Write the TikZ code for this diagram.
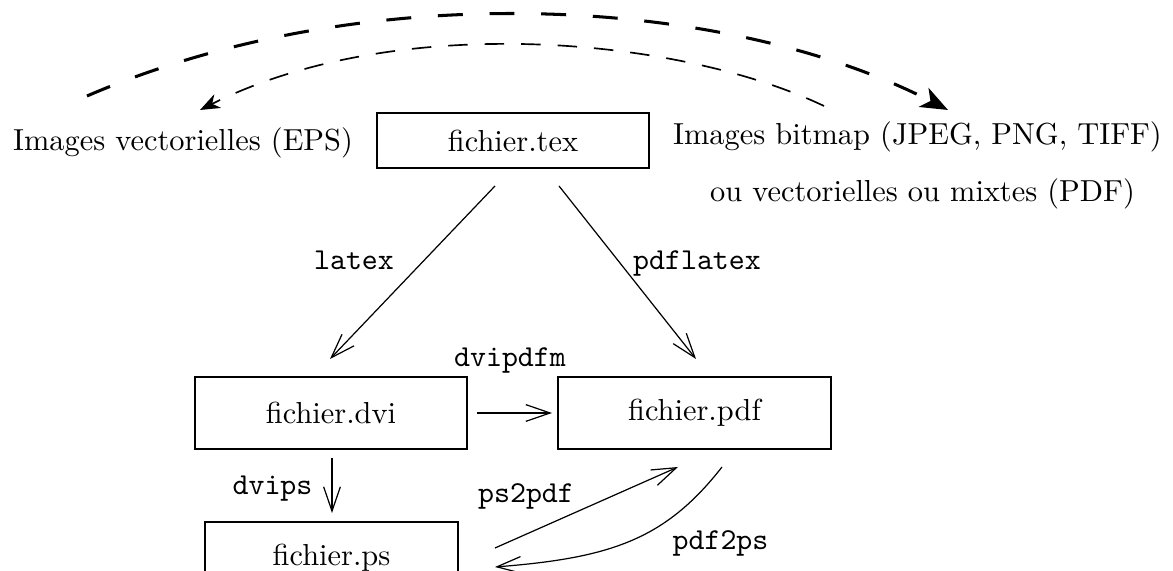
\documentclass[tikz,border=0pt]{standalone}
\usetikzlibrary{arrows.meta}
\begin{document}
\begin{tikzpicture}[x=0.329pt,y=-0.329pt,
  filebox/.style={draw, line width=0.5pt, inner sep=0pt, minimum width=89.5pt, minimum height=23.7pt},
  txt/.style={anchor=base, inner sep=0pt},
  cmd/.style={anchor=base, inner sep=0pt, font=\ttfamily},
  arr/.style={line width=0.4pt, -{Straight Barb[length=8pt,width=5.5pt]}},
  thickdash/.style={line width=1pt, dash pattern=on 8.2pt off 8.8pt, -{Stealth[length=9pt,width=7pt,inset=2.5pt]}},
  thindash/.style={line width=0.55pt, dash pattern=on 6.4pt off 5.6pt, -{Stealth[length=6.5pt,width=5pt,inset=2pt]}}]
\useasboundingbox (0,0) rectangle (1173,571);
\clip (0,0) rectangle (1173,571);

% boxes
\node[filebox, minimum height=18.1pt] (tex) at (513,140.5) {fichier.tex};
\node[filebox] (dvi) at (331,413) {fichier.dvi};
\node[filebox, minimum width=89.8pt] (pdf) at (694.5,413) {fichier.pdf};
\node[filebox, minimum width=83.2pt] (ps) at (331.5,558) {fichier.ps};

% side texts
\node[txt] (vec) at (183,151) {Images vectorielles (EPS)};
\node[txt] (bmp) at (917.5,145) {Images bitmap (JPEG, PNG, TIFF)};
\node[txt] (mix) at (922.5,202) {ou vectorielles ou mixtes (PDF)};

% command labels
\node[cmd] (llatex) at (354,270) {latex};
\node[cmd] (lpdflatex) at (697,270) {pdflatex};
\node[cmd] (ldvipdfm) at (510,367) {dvipdfm};
\node[cmd] (ldvips) at (272.5,495) {dvips};
\node[cmd] (lps2pdf) at (526,503) {ps2pdf};
\node[cmd] (lpdf2ps) at (720.5,550) {pdf2ps};

% connector end points
\coordinate (texL) at (495,186);
\coordinate (texR) at (559,186);
\coordinate (dviT) at (330,359);
\coordinate (pdfT) at (696,359);
\coordinate (dviR) at (477,413);
\coordinate (pdfL) at (552,413);
\coordinate (dviB) at (332,458);
\coordinate (psT) at (332,513);
\coordinate (psR1) at (495,548);
\coordinate (pdfB1) at (678,467);
\coordinate (pdfB2) at (722,467);
\coordinate (psR2) at (495,567);
\coordinate (vecTop) at (87,96);
\coordinate (bmpTop) at (948,110);
\coordinate (bmpStart) at (824,106);
\coordinate (vecEnd) at (200,110);

% solid arrows
\draw[arr] (texL) -- (dviT);
\draw[arr] (texR) -- (pdfT);
\draw[arr] (dviR) -- (pdfL);
\draw[arr] (dviB) -- (psT);
\draw[arr] (psR1) -- (pdfB1);
\draw[arr] (pdfB2) .. controls (665,540) and (610,558) .. (psR2);

% dashed arcs
\draw[thickdash] (vecTop) .. controls (368,-25) and (727,-4) .. (bmpTop);
\draw[thindash] (bmpStart) .. controls (677,36) and (395,12) .. (vecEnd);
\end{tikzpicture}
\end{document}
